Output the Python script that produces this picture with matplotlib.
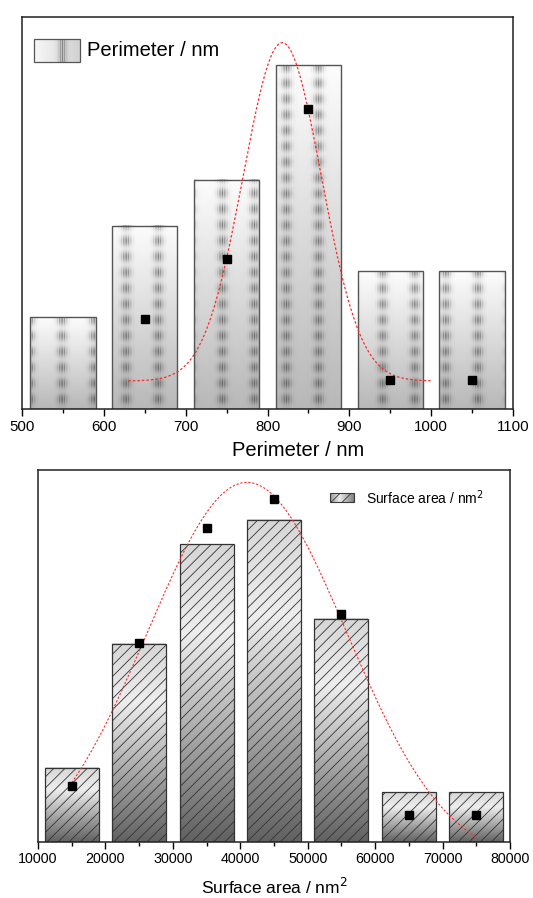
import numpy as np
import matplotlib
matplotlib.use('Agg')
import matplotlib.pyplot as plt
from matplotlib.ticker import MultipleLocator

plt.rcParams['font.family'] = ['Liberation Sans', 'DejaVu Sans']
plt.rcParams['hatch.linewidth'] = 0.6

# ---------------- data ----------------
perim_bins = [550, 650, 750, 850, 950, 1050]
perim_counts = [4, 8, 10, 15, 6, 6]
perim_pts_x = [650, 750, 850, 950, 1050]
perim_pts_y = [3.93, 6.55, 13.1, 1.27, 1.27]
perim_fit = dict(y0=1.22, A=14.76, xc=818.0, w=47.7)
perim_fit_range = (630, 1000)

area_bins = [15000, 25000, 35000, 45000, 55000, 65000, 75000]
area_counts = [3, 8, 12, 13, 9, 2, 2]
area_pts_x = [15000, 25000, 35000, 45000, 55000, 65000, 75000]
area_pts_y = [2.26, 8.02, 12.66, 13.83, 9.19, 1.09, 1.09]
area_fit = dict(y0=-0.9, A=15.4, xc=41000.0, w=14800.0)
area_fit_range = (15000, 75000)


def gauss(x, y0, A, xc, w):
    return y0 + A * np.exp(-(x - xc) ** 2 / (2 * w ** 2))


W, H = 533, 898
fig = plt.figure(figsize=(W / 100, H / 100), dpi=100)

# ================= top panel =================
ax1 = fig.add_axes([22 / W, 1 - 409 / H, 491 / W, 392 / H])
x1lim = (500, 1100)
y1lim = (0, 17.1)
pxx = 491 / (x1lim[1] - x1lim[0])
pxy = 392 / (y1lim[1] - y1lim[0])
bw1 = 80


def stripe_dark(Xp, Yp):
    # Xp, Yp : pixel coords relative to axes left / top
    dx = ((Xp - 40 + 16) % 32) - 16
    env = np.exp(-(dx / 5.0) ** 2) * (0.6 + 0.4 * np.cos(2 * np.pi * dx / 2.4))
    vy = 0.6 + 0.4 * np.cos(2 * np.pi * (Yp - 3) / 15.8)
    return 0.55 * env * vy


for c, h in zip(perim_bins, perim_counts):
    x0, x1 = c - bw1 / 2, c + bw1 / 2
    nx = int(bw1 * pxx * 3)
    ny = max(int(h * pxy * 3), 4)
    xs = np.linspace(x0, x1, nx)
    ys = np.linspace(h, 0, ny)
    X, Y = np.meshgrid(xs, ys)
    Xp = (X - x1lim[0]) * pxx
    Yp = (y1lim[1] - Y) * pxy
    t = (h - Y) / h
    base = 0.99 - 0.27 * t
    img = base * (1 - stripe_dark(Xp, Yp))
    ax1.imshow(img, extent=[x0, x1, 0, h], origin='upper', cmap='gray',
               vmin=0, vmax=1, aspect='auto', interpolation='bilinear', zorder=1)
ax1.bar(perim_bins, perim_counts, width=bw1, facecolor='none',
        edgecolor='#555555', linewidth=1.0, zorder=2)

xf = np.linspace(*perim_fit_range, 400)
ax1.plot(xf, gauss(xf, **perim_fit), color='#ff2a2a', lw=0.9,
         linestyle=(0, (2, 1.6)), zorder=3)
ax1.plot(perim_pts_x, perim_pts_y, 's', color='black', ms=6, zorder=4)

ax1.set_xlim(*x1lim)
ax1.set_ylim(*y1lim)
ax1.set_yticks([])
ax1.xaxis.set_major_locator(MultipleLocator(100))
ax1.xaxis.set_minor_locator(MultipleLocator(50))
ax1.tick_params(axis='x', which='major', direction='out', length=5, width=1,
                pad=3, labelsize=10.8)
ax1.tick_params(axis='x', which='minor', direction='out', length=3, width=1)
for s in ax1.spines.values():
    s.set_linewidth(1.1)
    s.set_color('#222222')
ax1.set_xlabel('Perimeter / nm', fontsize=14.5)
ax1.xaxis.set_label_coords((298 - 22) / 491, -(451 - 409) / 392)
ax1.xaxis.label.set_va('center')

# legend (manual)
lx0, lx1 = (34 - 22) / 491, (80 - 22) / 491
ly0, ly1 = 1 - (62 - 17) / 392, 1 - (39 - 17) / 392
gx = np.linspace(0, 1, 150)
gy = np.linspace(0, 1, 60)
GX, GY = np.meshgrid(gx, gy)
leg_base = 0.97 - 0.15 * GX
ddx = (GX - 0.62) * 46
leg_dark = 0.55 * np.exp(-(ddx / 4) ** 2) * (0.5 + 0.5 * np.cos(2 * np.pi * ddx / 2.2))
leg_img = leg_base * (1 - leg_dark)
ax1.imshow(leg_img, extent=[lx0, lx1, ly0, ly1], transform=ax1.transAxes,
           cmap='gray', vmin=0, vmax=1, aspect='auto', interpolation='bilinear',
           zorder=5)
ax1.add_patch(plt.Rectangle((lx0, ly0), lx1 - lx0, ly1 - ly0, transform=ax1.transAxes,
                            facecolor='none', edgecolor='#555555', lw=0.9, zorder=6))
ax1.text((87 - 22) / 491, (ly0 + ly1) / 2, 'Perimeter / nm', transform=ax1.transAxes,
         fontsize=14.5, va='center', ha='left', zorder=6)
ax1.set_xlim(*x1lim)
ax1.set_ylim(*y1lim)

# ================= bottom panel =================
ax2 = fig.add_axes([38 / W, 1 - 842 / H, 472 / W, 372 / H])
x2lim = (10000, 80000)
y2lim = (0, 15.0)
bw2 = 8000

for c, h in zip(area_bins, area_counts):
    x0, x1 = c - bw2 / 2, c + bw2 / 2
    ny = 200
    t = np.linspace(0, 1, ny)[:, None]
    base = np.interp(t, [0, 0.3, 1], [0.84, 0.93, 0.38])
    img = np.repeat(base, 20, axis=1)
    ax2.imshow(img, extent=[x0, x1, 0, h], origin='upper', cmap='gray',
               vmin=0, vmax=1, aspect='auto', interpolation='bilinear', zorder=1)
ax2.bar(area_bins, area_counts, width=bw2, facecolor='none',
        edgecolor='#333333', hatch='///', linewidth=0.9, zorder=2)

xf2 = np.linspace(*area_fit_range, 400)
ax2.plot(xf2, gauss(xf2, **area_fit), color='#ff2a2a', lw=0.8,
         linestyle=(0, (2, 1.6)), zorder=3)
ax2.plot(area_pts_x, area_pts_y, 's', color='black', ms=6, zorder=4)

ax2.set_xlim(*x2lim)
ax2.set_ylim(*y2lim)
ax2.set_yticks([])
ax2.xaxis.set_major_locator(MultipleLocator(10000))
ax2.xaxis.set_minor_locator(MultipleLocator(5000))
ax2.tick_params(axis='x', which='major', direction='out', length=5, width=1,
                pad=2, labelsize=10.3)
ax2.tick_params(axis='x', which='minor', direction='out', length=3, width=1)
for s in ax2.spines.values():
    s.set_linewidth(1.1)
    s.set_color('#222222')
ax2.set_xlabel('Surface area / nm$^2$', fontsize=12.5, labelpad=8)

# legend (manual)
bx0, bx1 = (330 - 38) / 472, (354 - 38) / 472
by0, by1 = 1 - (502 - 470) / 372, 1 - (493 - 470) / 372
lg = np.interp(np.linspace(0, 1, 100), [0, 0.4, 1], [0.6, 0.92, 0.5])[None, :]
ax2.imshow(np.repeat(lg, 10, axis=0), extent=[bx0, bx1, by0, by1],
           transform=ax2.transAxes, cmap='gray', vmin=0, vmax=1, aspect='auto',
           interpolation='bilinear', zorder=5)
ax2.add_patch(plt.Rectangle((bx0, by0), bx1 - bx0, by1 - by0, transform=ax2.transAxes,
                            facecolor='none', edgecolor='#3a3a3a', hatch='///',
                            lw=0.8, zorder=6))
ax2.text((366 - 38) / 472, (by0 + by1) / 2, 'Surface area / nm$^2$',
         transform=ax2.transAxes, fontsize=10, va='center', ha='left', zorder=6)
ax2.set_xlim(*x2lim)
ax2.set_ylim(*y2lim)

fig.savefig('out.png', dpi=100)
